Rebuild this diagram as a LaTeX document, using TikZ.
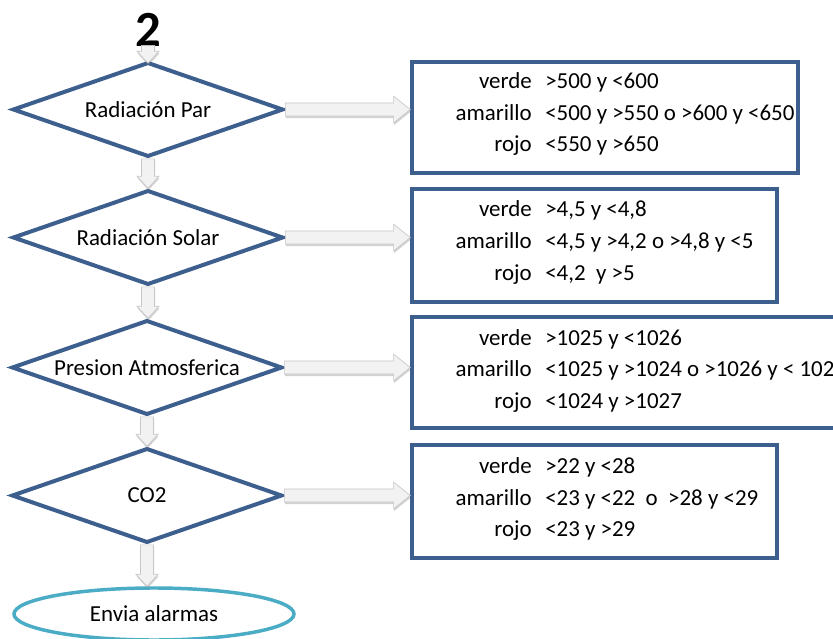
\documentclass[tikz,border=0pt]{standalone}
\usepackage{fontspec}
\setmainfont{Carlito}
\usetikzlibrary{shapes.geometric,calc,shadows}

\definecolor{frameblue}{RGB}{60,95,142}
\definecolor{endcyan}{RGB}{75,172,198}
\definecolor{arrowfill}{RGB}{242,242,242}
\definecolor{arrowedge}{RGB}{200,200,200}

% fat block arrow pointing down, from anchor #1 to anchor #2
\newcommand\vblock[2]{%
  \path[blockarrow] let \p1=(#1), \p2=(#2) in
    (\x1-4.9pt,\y1) -- (\x1-4.9pt,\y2+9pt) -- (\x1-8.3pt,\y2+9pt) -- (\x1,\y2)
    -- (\x1+8.3pt,\y2+9pt) -- (\x1+4.9pt,\y2+9pt) -- (\x1+4.9pt,\y1) -- cycle;}
% fat block arrow pointing right, from anchor #1 to anchor #2
\newcommand\hblock[2]{%
  \path[blockarrow] let \p1=(#1), \p2=(#2) in
    (\x1,\y1+4.9pt) -- (\x2-12.5pt,\y1+4.9pt) -- (\x2-12.5pt,\y1+10pt) -- (\x2,\y1)
    -- (\x2-12.5pt,\y1-10pt) -- (\x2-12.5pt,\y1-4.9pt) -- (\x1,\y1-4.9pt) -- cycle;}
% one row of thresholds: name, baseline y, colour word, range
\newcommand\crow[4]{%
  \node[rowtext, anchor=base east] (#1l) at (532,#2) {#3};
  \node[rowtext, anchor=base west] (#1r) at (545,#2) {#4};}

\tikzset{
  txt/.style={font=\fontsize{17.2pt}{21pt}\selectfont},
  dia/.style={diamond, draw=frameblue, line width=3pt, fill=white, inner sep=0pt,
    minimum width=203pt, minimum height=71pt, label={[txt]center:#1}},
  rangebox/.style={rectangle, draw=frameblue, line width=2.6pt, fill=white, inner sep=0pt},
  rowtext/.style={inner sep=0pt, txt},
  blockarrow/.style={fill=arrowfill, draw=arrowedge, line width=0.5pt, line join=miter,
    drop shadow={shadow xshift=0.4pt, shadow yshift=-1.6pt, opacity=0.35, fill=gray}},
}

\begin{document}
\begin{tikzpicture}[x=0.75pt,y=-0.75pt]
\useasboundingbox (0,0) rectangle (833,639);
\clip (0,0) rectangle (833,639);
\fill[white] (0,0) rectangle (833,639);

% start marker
\node[inner sep=0pt, font=\fontsize{38pt}{40pt}\selectfont\bfseries] (two) at (148,30) {2};

% decisions
\node[dia={Radiación Par}] (d1) at (148,109.5) {};
\node[dia={Radiación Solar}] (d2) at (148,237.5) {};
\node[dia={Presion Atmosferica}] (d3) at (147,367.5) {};
\node[dia={CO2}] (d4) at (147,495.5) {};

% end
\node[ellipse, draw=endcyan, line width=2.6pt, fill=white, minimum width=210pt,
  minimum height=39pt, inner sep=0pt, txt]
  (fin) at (154,614) {Envia alarmas};

% threshold boxes
\node[rangebox, minimum width=289.5pt, minimum height=83pt] (b1) at (605,117.5) {};
\node[rangebox, minimum width=273.75pt, minimum height=84.5pt] (b2) at (594.5,245.5) {};
\node[rangebox, minimum width=336pt, minimum height=83pt] (b3) at (636,372.5) {};
\node[rangebox, minimum width=273.75pt, minimum height=84.5pt] (b4) at (594.5,501.5) {};

\crow{p1}{88}{verde}{>500 y <600}
\crow{p2}{120}{amarillo}{<500 y >550 o >600 y <650}
\crow{p3}{151}{rojo}{<550 y >650}

\crow{s1}{216}{verde}{>4,5 y <4,8}
\crow{s2}{248}{amarillo}{<4,5 y >4,2 o >4,8 y <5}
\crow{s3}{280}{rojo}{<4,2\ \ y >5}

\crow{a1}{345}{verde}{>1025 y <1026}
\crow{a2}{376}{amarillo}{<1025 y >1024 o >1026 y < 1027}
\crow{a3}{408}{rojo}{<1024 y >1027}

\crow{c1}{473}{verde}{>22 y <28}
\crow{c2}{505}{amarillo}{<23 y <22\ \ o\ \ >28 y <29}
\crow{c3}{536}{rojo}{<23 y >29}

% flow downwards
\coordinate (t0) at ($(two.south)+(0,-1.5)$);
\coordinate (t1) at ($(d1.north)+(0,3)$);
\vblock{t0}{t1}
\vblock{d1.south}{d2.north}
\vblock{d2.south}{d3.north}
\vblock{d3.south}{d4.north}
\vblock{d4.south}{fin.north}

% checks against the ranges
\hblock{d1.east}{b1.west}
\hblock{d2.east}{b2.west}
\hblock{d3.east}{b3.west}
\hblock{d4.east}{b4.west}
\end{tikzpicture}
\end{document}
